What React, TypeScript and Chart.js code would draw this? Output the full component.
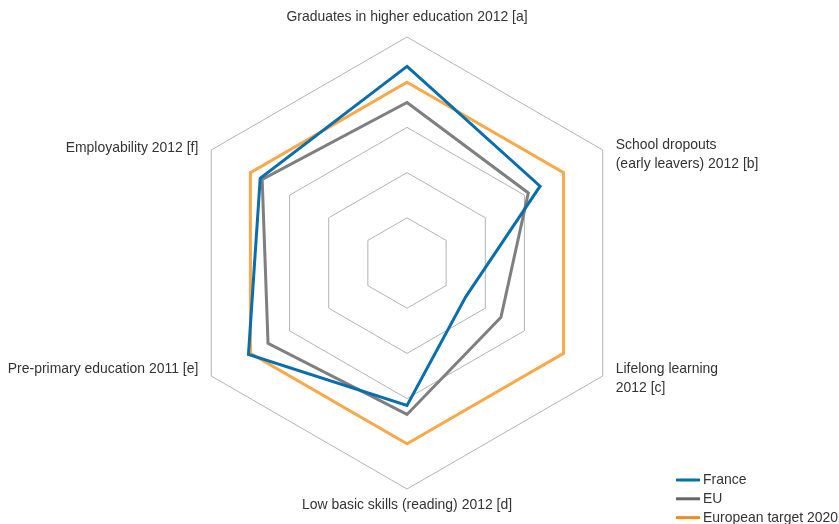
import React, { useEffect, useRef } from "react";
import { Chart, registerables } from "chart.js";

Chart.register(...registerables);

const categories: string[][] = [
  ["Graduates in higher education 2012 [a]"],
  ["School dropouts", "(early leavers) 2012 [b]"],
  ["Lifelong learning", "2012 [c]"],
  ["Low basic skills (reading) 2012 [d]"],
  ["Pre-primary education 2011 [e]"],
  ["Employability 2012 [f]"],
];

const seriesNames = ["France", "EU", "European target 2020"];
const franceValues = [87, 68, 30, 63, 81, 75];
const euValues = [71, 62, 48, 67, 71, 74];
const targetValues = [80, 80, 80, 80, 80, 80];

const lineColors = ["#0a6ead", "#7f7f7f", "#f9a84a"];
const legendColors = ["#0a6ead", "#666666", "#f58a1f"];

const FONT = '"Liberation Sans", Arial, sans-serif';
const SX = 0.93;

function drawText(ctx: CanvasRenderingContext2D, t: string, x: number, y: number) {
  ctx.save();
  ctx.translate(x, y);
  ctx.scale(SX, 1);
  ctx.fillText(t, 0, 0);
  ctx.restore();
}

const labelPlugin = {
  id: "customPointLabels",
  afterDraw(chart: any) {
    const scale = chart.scales.r;
    const ctx = chart.ctx;
    ctx.save();
    ctx.font = `15px ${FONT}`;
    ctx.fillStyle = "#333333";
    ctx.textBaseline = "middle";
    const lh = 19;
    const labels = chart.data.labels as string[][];
    labels.forEach((lines, i) => {
      const p = scale.getPointPosition(i, scale.drawingArea);
      let x = p.x;
      let y = p.y;
      const n = lines.length;
      if (Math.abs(p.x - scale.xCenter) < 2) {
        ctx.textAlign = "center";
        y = p.y < scale.yCenter ? p.y - 20 : p.y + 16;
      } else if (p.x > scale.xCenter) {
        ctx.textAlign = "left";
        x = p.x + 13;
        y = p.y + (p.y < scale.yCenter ? 4 : 2);
      } else {
        ctx.textAlign = "right";
        x = p.x - 13;
        y = p.y + (p.y < scale.yCenter ? -2 : -7);
      }
      lines.forEach((t, k) => {
        drawText(ctx, t, x, y + (k - (n - 1) / 2) * lh);
      });
    });
    ctx.restore();
  },
};

const legendPlugin = {
  id: "customLegend",
  afterDraw(chart: any) {
    const ctx = chart.ctx;
    ctx.save();
    ctx.font = `15px ${FONT}`;
    ctx.textAlign = "left";
    ctx.textBaseline = "middle";
    const x0 = 676;
    const y0 = 480;
    const step = 18.8;
    chart.data.datasets.forEach((ds: any, i: number) => {
      const y = y0 + i * step;
      ctx.strokeStyle = legendColors[i];
      ctx.lineWidth = 3;
      ctx.beginPath();
      ctx.moveTo(x0, y);
      ctx.lineTo(x0 + 24, y);
      ctx.stroke();
      ctx.fillStyle = "#333333";
      drawText(ctx, ds.label, x0 + 27, y);
    });
    ctx.restore();
  },
};

export default function App() {
  const ref = useRef<HTMLCanvasElement | null>(null);
  useEffect(() => {
    if (!ref.current) return;
    const values = [franceValues, euValues, targetValues];
    const chart = new Chart(ref.current, {
      type: "radar",
      data: {
        labels: categories as any,
        datasets: seriesNames.map((name, i) => ({
          label: name,
          data: values[i],
          borderColor: lineColors[i],
          backgroundColor: "transparent",
          borderWidth: 3,
          pointRadius: 0,
          fill: false,
          order: i === 2 ? 2 : i === 1 ? 1 : 0,
        })),
      },
      options: {
        animation: false,
        responsive: true,
        maintainAspectRatio: false,
        layout: { padding: { top: 37, bottom: 35, left: 0, right: 25 } },
        plugins: { legend: { display: false }, tooltip: { enabled: false } },
        elements: { line: { tension: 0, borderJoinStyle: "miter" } },
        scales: {
          r: {
            min: 0,
            max: 100,
            ticks: { stepSize: 20, display: false },
            grid: { circular: false, color: "#b3b3b3", lineWidth: 1 },
            angleLines: { display: false },
            pointLabels: { display: false },
          },
        },
      },
      plugins: [labelPlugin, legendPlugin],
    });
    return () => chart.destroy();
  }, []);
  return (
    <div style={{ position: "fixed", left: 0, top: 0, width: 839, height: 524, background: "#fff" }}>
      <canvas ref={ref} />
    </div>
  );
}
